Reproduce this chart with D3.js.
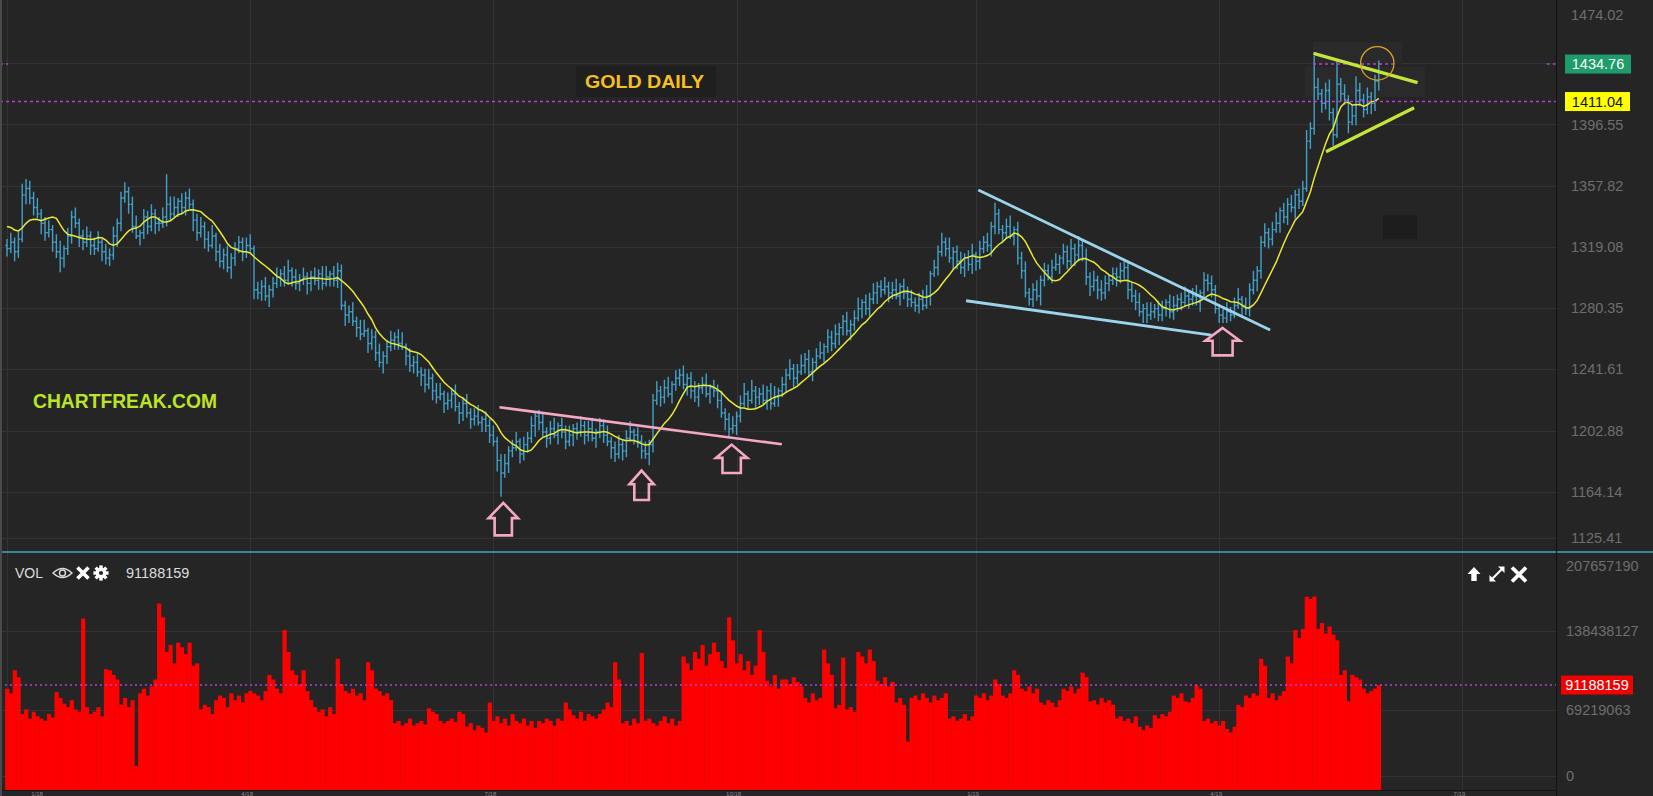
<!DOCTYPE html>
<html><head><meta charset="utf-8">
<script src="https://d3js.org/d3.v7.min.js"></script>
<style>html,body{margin:0;padding:0;background:#252525;overflow:hidden}svg{display:block}</style>
</head><body><svg id="c" width="1653" height="796"></svg>
<script>
// ---------- DATA ----------
const opens=[1320,1318,1322,1316,1324,1352,1356,1350,1344,1340,
1334,1328,1330,1322,1316,1312,1318,1326,1338,1334,
1326,1322,1326,1320,1318,1322,1316,1312,1314,1326,
1334,1350,1354,1346,1332,1326,1328,1338,1332,1340,
1334,1334,1338,1346,1340,1344,1348,1344,1350,1346,
1336,1328,1332,1324,1320,1326,1316,1310,1314,1306,
1312,1318,1322,1316,1320,1318,1292,1290,1294,1288,
1292,1296,1300,1302,1298,1304,1300,1296,1298,1300,
1296,1300,1298,1302,1296,1300,1302,1298,1304,1282,
1276,1278,1272,1268,1264,1266,1258,1262,1252,1246,
1250,1256,1260,1262,1258,1256,1250,1244,1246,1240,
1238,1232,1236,1228,1224,1226,1220,1222,1226,1218,
1214,1220,1214,1210,1212,1208,1210,1206,1200,1196,
1184,1176,1182,1190,1192,1196,1188,1194,1198,1206,
1212,1208,1202,1198,1204,1200,1206,1202,1196,1200,
1204,1202,1206,1200,1204,1198,1202,1206,1200,1196,
1192,1188,1194,1190,1198,1202,1200,1196,1190,1188,
1194,1222,1228,1224,1230,1226,1232,1236,1238,1232,
1236,1228,1224,1230,1232,1226,1230,1228,1222,1214,
1210,1204,1206,1212,1220,1226,1222,1228,1224,1226,
1222,1228,1220,1224,1228,1232,1238,1242,1236,1240,
1244,1248,1240,1246,1250,1252,1256,1262,1258,1264,
1268,1272,1266,1270,1274,1280,1284,1280,1286,1290,
1294,1292,1294,1290,1292,1288,1294,1290,1286,1284,
1282,1286,1282,1288,1302,1306,1316,1322,1318,1312,
1316,1310,1306,1312,1308,1314,1310,1318,1322,1320,
1332,1340,1330,1328,1332,1326,1330,1312,1304,1290,
1286,1292,1288,1298,1304,1300,1306,1308,1312,1316,
1310,1318,1314,1320,1312,1300,1294,1298,1292,1290,
1296,1298,1302,1300,1304,1306,1292,1288,1284,1278,
1280,1276,1278,1280,1276,1280,1284,1278,1282,1286,
1284,1288,1286,1288,1284,1290,1298,1296,1292,1280,
1276,1274,1278,1276,1282,1286,1282,1280,1292,1298,
1304,1322,1328,1324,1330,1334,1342,1338,1346,1344,
1352,1348,1356,1386,1394,1420,1416,1410,1418,1404,
1390,1422,1416,1412,1398,1402,1418,1412,1406,1414,
1410,1424];
const highs=[1324,1328,1325,1329,1359,1362,1361,1354,1350,1343,
1338,1336,1333,1327,1323,1320,1331,1342,1344,1337,
1330,1332,1329,1325,1329,1324,1321,1318,1332,1337,
1354,1360,1357,1351,1339,1330,1343,1342,1346,1343,
1338,1344,1365,1351,1351,1350,1353,1354,1356,1349,
1340,1338,1335,1329,1333,1328,1321,1318,1320,1315,
1322,1326,1325,1325,1327,1320,1297,1298,1300,1295,
1300,1306,1305,1307,1311,1306,1305,1302,1306,1303,
1304,1306,1305,1307,1307,1304,1307,1309,1308,1285,
1282,1284,1275,1273,1273,1268,1267,1266,1258,1253,
1260,1266,1265,1267,1265,1258,1255,1250,1252,1243,
1242,1242,1239,1233,1233,1228,1227,1230,1232,1221,
1224,1226,1217,1217,1219,1212,1215,1210,1206,1199,
1188,1188,1193,1197,1202,1198,1199,1202,1212,1215,
1216,1214,1205,1209,1211,1208,1211,1206,1206,1207,
1208,1212,1209,1209,1211,1204,1211,1210,1206,1199,
1196,1200,1197,1203,1209,1204,1205,1200,1196,1197,
1226,1234,1231,1235,1237,1234,1241,1242,1244,1239,
1240,1234,1233,1237,1239,1232,1235,1232,1228,1217,
1214,1212,1215,1225,1233,1228,1235,1231,1230,1232,
1231,1233,1231,1230,1237,1242,1248,1245,1245,1251,
1252,1254,1249,1255,1259,1258,1267,1266,1270,1271,
1276,1278,1273,1279,1287,1286,1289,1290,1296,1297,
1298,1300,1297,1297,1299,1296,1299,1294,1292,1287,
1290,1292,1295,1304,1311,1320,1328,1325,1325,1319,
1320,1316,1315,1317,1321,1316,1323,1326,1328,1335,
1347,1343,1333,1337,1339,1332,1335,1316,1310,1293,
1296,1298,1301,1309,1308,1311,1315,1314,1321,1320,
1324,1321,1326,1324,1318,1303,1304,1301,1298,1301,
1302,1306,1306,1309,1310,1310,1297,1292,1290,1283,
1284,1284,1283,1285,1285,1286,1289,1288,1289,1290,
1294,1291,1293,1295,1292,1303,1302,1301,1295,1283,
1280,1284,1281,1287,1293,1288,1287,1296,1304,1307,
1326,1334,1331,1335,1341,1344,1347,1350,1352,1355,
1356,1361,1393,1398,1440,1426,1419,1423,1425,1407,
1437,1426,1422,1415,1409,1427,1423,1416,1420,1417,
1428,1437];
const lows=[1313,1315,1310,1312,1322,1346,1346,1339,1337,1327,
1323,1325,1316,1312,1303,1306,1314,1321,1331,1319,
1317,1319,1314,1314,1316,1310,1308,1307,1311,1319,
1329,1347,1340,1328,1324,1320,1324,1327,1329,1327,
1329,1331,1332,1336,1338,1338,1340,1339,1343,1329,
1323,1325,1318,1316,1318,1310,1306,1305,1303,1299,
1307,1315,1310,1312,1316,1286,1286,1285,1285,1281,
1287,1293,1294,1294,1296,1294,1292,1291,1295,1289,
1291,1295,1292,1292,1294,1294,1294,1293,1279,1269,
1271,1269,1262,1260,1262,1252,1254,1247,1243,1239,
1245,1253,1254,1254,1254,1244,1240,1239,1237,1231,
1227,1229,1222,1220,1222,1214,1216,1217,1215,1207,
1209,1211,1204,1206,1206,1202,1202,1195,1193,1177,
1161,1173,1176,1186,1190,1182,1184,1189,1195,1199,
1203,1199,1192,1194,1198,1194,1198,1191,1193,1193,
1197,1199,1194,1196,1196,1192,1198,1195,1193,1185,
1183,1185,1184,1186,1196,1194,1192,1185,1185,1181,
1189,1219,1218,1220,1224,1220,1228,1231,1229,1225,
1223,1221,1218,1226,1224,1220,1224,1217,1211,1203,
1199,1201,1200,1208,1218,1216,1220,1217,1219,1219,
1216,1216,1218,1218,1224,1227,1235,1230,1232,1238,
1239,1237,1234,1242,1248,1246,1252,1253,1255,1257,
1263,1263,1260,1266,1272,1274,1276,1275,1283,1283,
1287,1289,1284,1286,1286,1282,1286,1281,1281,1278,
1277,1279,1280,1282,1300,1301,1313,1313,1309,1305,
1305,1302,1300,1304,1302,1304,1305,1315,1316,1313,
1327,1327,1322,1324,1324,1320,1308,1299,1287,1282,
1281,1285,1282,1294,1298,1296,1304,1302,1308,1305,
1307,1307,1310,1310,1295,1288,1291,1286,1285,1286,
1291,1295,1294,1296,1299,1286,1284,1279,1275,1271,
1271,1273,1274,1272,1272,1275,1274,1273,1278,1279,
1281,1280,1282,1282,1278,1286,1291,1287,1277,1271,
1271,1271,1272,1274,1280,1276,1276,1275,1289,1291,
1299,1319,1318,1320,1328,1328,1334,1333,1341,1337,
1343,1345,1354,1381,1390,1412,1404,1406,1399,1383,
1388,1411,1409,1391,1396,1396,1408,1401,1403,1403,
1405,1418];
const closes=[1318,1322,1316,1324,1352,1356,1350,1344,1340,1334,
1328,1330,1322,1316,1312,1318,1326,1338,1334,1326,
1322,1326,1320,1318,1322,1316,1312,1314,1326,1334,
1350,1354,1346,1332,1326,1328,1338,1332,1340,1334,
1334,1338,1346,1340,1344,1348,1344,1350,1346,1336,
1328,1332,1324,1320,1326,1316,1310,1314,1306,1312,
1318,1322,1316,1320,1318,1292,1290,1294,1288,1292,
1296,1300,1302,1298,1304,1300,1296,1298,1300,1296,
1300,1298,1302,1296,1300,1302,1298,1304,1282,1276,
1278,1272,1268,1264,1266,1258,1262,1252,1246,1250,
1256,1260,1262,1258,1256,1250,1244,1246,1240,1238,
1232,1236,1228,1224,1226,1220,1222,1226,1218,1214,
1220,1214,1210,1212,1208,1210,1206,1200,1196,1184,
1176,1182,1190,1192,1196,1188,1194,1198,1206,1212,
1208,1202,1198,1204,1200,1206,1202,1196,1200,1204,
1202,1206,1200,1204,1198,1202,1206,1200,1196,1192,
1188,1194,1190,1198,1202,1200,1196,1190,1188,1194,
1222,1228,1224,1230,1226,1232,1236,1238,1232,1236,
1228,1224,1230,1232,1226,1230,1228,1222,1214,1210,
1204,1206,1212,1220,1226,1222,1228,1224,1226,1222,
1228,1220,1224,1228,1232,1238,1242,1236,1240,1244,
1248,1240,1246,1250,1252,1256,1262,1258,1264,1268,
1272,1266,1270,1274,1280,1284,1280,1286,1290,1294,
1292,1294,1290,1292,1288,1294,1290,1286,1284,1282,
1286,1282,1288,1302,1306,1316,1322,1318,1312,1316,
1310,1306,1312,1308,1314,1310,1318,1322,1320,1332,
1340,1330,1328,1332,1326,1330,1312,1304,1290,1286,
1292,1288,1298,1304,1300,1306,1308,1312,1316,1310,
1318,1314,1320,1312,1300,1294,1298,1292,1290,1296,
1298,1302,1300,1304,1306,1292,1288,1284,1278,1280,
1276,1278,1280,1276,1280,1284,1278,1282,1286,1284,
1288,1286,1288,1284,1290,1298,1296,1292,1280,1276,
1274,1278,1276,1282,1286,1282,1280,1292,1298,1304,
1322,1328,1324,1330,1334,1342,1338,1346,1344,1352,
1348,1356,1386,1394,1420,1416,1410,1418,1404,1390,
1422,1416,1412,1398,1402,1418,1412,1406,1414,1410,
1424,1434.76];
// volume in millions
const volumes=[88,84,104,98,66,70,62,68,64,62,
60,66,63,85,80,75,72,78,70,68,
149,72,66,68,72,64,105,104,100,96,
74,80,72,78,21,84,88,82,90,96,
162,150,120,126,110,128,124,118,128,108,
110,70,74,72,66,78,82,80,72,84,
78,82,76,84,86,84,82,78,86,100,
96,88,84,139,120,104,100,92,104,86,
78,72,68,70,64,72,66,114,92,86,
84,88,82,84,78,111,104,88,86,82,
84,78,58,60,56,58,62,56,58,60,
57,71,68,66,60,58,60,62,59,68,
66,55,58,52,56,54,50,76,60,64,
58,62,56,66,60,58,62,56,60,54,
60,58,62,60,56,62,60,76,70,65,
62,68,60,66,64,62,66,70,76,72,
111,96,58,60,56,62,58,119,60,62,
58,56,60,64,58,62,56,60,116,110,
104,120,114,126,108,118,128,120,112,106,
150,130,110,118,104,112,100,108,139,120,
95,90,100,88,96,96,92,98,94,90,
80,76,84,78,80,122,110,100,71,74,
115,70,72,68,120,116,110,122,112,95,
92,98,90,94,76,80,74,42,80,82,
78,84,80,76,82,78,80,84,62,64,
60,62,66,60,64,82,80,84,78,82,
96,92,82,80,84,104,100,88,86,90,
84,88,76,74,78,76,72,78,88,86,
90,84,88,102,98,77,78,74,80,76,
78,74,62,64,60,62,58,64,55,52,
56,54,65,62,66,64,68,82,80,84,
77,76,80,91,88,60,62,58,60,56,
60,53,50,55,74,72,82,80,84,82,
114,108,80,84,78,82,86,116,110,139,
132,140,168,166,168,140,145,136,142,135,
130,100,104,77,100,98,96,88,84,86,
88,91.188159];
// closes before the first visible bar (only used to seed the moving average)
const maSeed=[1328,1332,1330,1334,1326,1330,1338,1342,1342];
const maPeriod=10;
const priceTicks=[1125.41,1164.14,1202.88,1241.61,1280.35,1319.08,1357.82,1396.55,1435.29,1474.02];
const volumeTicks=[0,69219063,138438127,207657190];
const quarterStarts=[0,64,128,192,255,319,383];
const xLabels=["1/18","4/18","7/18","10/18","1/19","4/19","7/19"];
const lastClose=1434.76, lastMA=1411.04, lastVolume=91188159;
const title="GOLD DAILY", watermark="CHARTFREAK.COM";
// annotations in (bar index, price) space
const pinkLine=[[129.6,1217.6],[203.9,1194.2]];
const arrows=[{i:130.6,p:1157.9,w:32,h:35},{i:167.0,p:1178.4,w:27,h:32},{i:190.7,p:1194.8,w:34,h:31},{i:319.9,p:1268.6,w:37,h:30}];
const wedgeUpper=[[255.6,1355.1],[332.4,1266.5]];
const wedgeLower=[[252.4,1285.0],[317.0,1263.3]];
const triUpper=[[343.8,1441.5],[371.2,1423.0]];
const triLower=[[347.1,1379.3],[370.3,1407.1]];
const circleMark={i:360.6,p:1435.2};
const lastCloseSegments=[[-1.9,0.3],[343.7,365.8],[405.2,407.6]];

// ---------- LAYOUT ----------
const W=1653,H=796,plotR=1556,priceBot=551,volTop=553,volBot=790;
const BG="#252525",GRID="#333333",FONT="'Liberation Sans',Arial,sans-serif";
const N=closes.length;
const svg=d3.select("#c");
const x=d3.scaleLinear().domain([0,N-1]).range([7,1378.8]);
const yP=d3.scaleLinear().domain([1125.41,1474.02]).range([553,2]);
const yV=d3.scaleLinear().domain([0,207.65719]).range([volBot,551]);

svg.append("rect").attr("width",W).attr("height",H).attr("fill",BG);
const defs=svg.append("defs");
defs.append("clipPath").attr("id","cp").append("rect").attr("x",0).attr("y",0).attr("width",plotR).attr("height",priceBot);
defs.append("clipPath").attr("id","cv").append("rect").attr("x",0).attr("y",volTop).attr("width",plotR).attr("height",volBot-volTop);

// grid
const grid=svg.append("g").attr("stroke",GRID).attr("stroke-width",1);
quarterStarts.forEach(q=>{const xx=Math.round(x(q))+0.5; if(xx<plotR) grid.append("line").attr("x1",xx).attr("x2",xx).attr("y1",0).attr("y2",volBot);});
const pLabelY=t=>Math.max(15,Math.min(537.5,yP(t)));
priceTicks.forEach(t=>{const yy=pLabelY(t); if(yP(t)<10) return; grid.append("line").attr("x1",0).attr("x2",plotR).attr("y1",Math.round(yy)+0.5).attr("y2",Math.round(yy)+0.5);});
const vLabelY=t=>Math.max(566,Math.min(776,yV(t/1e6)));
volumeTicks.forEach(t=>{const yy=yV(t/1e6); if(yy<560) return; const y2=Math.min(776,yy); grid.append("line").attr("x1",0).attr("x2",plotR).attr("y1",Math.round(y2)+0.5).attr("y2",Math.round(y2)+0.5);});

// subtle boxes behind texts/annotations (as in reference)
svg.append("rect").attr("x",576).attr("y",66).attr("width",140).attr("height",31).attr("fill","#1f1f1f");
svg.append("rect").attr("x",1313).attr("y",42).attr("width",89).attr("height",22).attr("fill","#2a2a2a");
svg.append("rect").attr("x",1305).attr("y",67).attr("width",120).attr("height",30).attr("fill","#2a2a2a");
svg.append("rect").attr("x",1383).attr("y",215).attr("width",34).attr("height",24).attr("fill","#1d1d1d");

// volume bars
const step=x(1)-x(0);
svg.append("g").attr("clip-path","url(#cv)").selectAll("rect").data(volumes).join("rect")
 .attr("x",(d,i)=>x(i)-step/2).attr("width",step+0.4)
 .attr("y",d=>yV(d)).attr("height",d=>volBot-yV(d)).attr("fill","#ff0000");

// OHLC bars
const pg=svg.append("g").attr("clip-path","url(#cp)");
pg.append("g").attr("stroke","#43a0c8").attr("stroke-width",1.4).attr("fill","none")
 .selectAll("path").data(closes).join("path")
 .attr("d",(c,i)=>{const xx=x(i),t=1.7;
   const hi=Math.max(highs[i],opens[i],c),lo=Math.min(lows[i],opens[i],c);
   return `M${xx},${yP(hi)}V${yP(lo)}M${xx-t},${yP(opens[i])}H${xx}M${xx},${yP(c)}H${xx+t}`;});

// moving average
const maIn=maSeed.concat(closes);
const ma=closes.map((c,i)=>d3.mean(maIn.slice(i+maSeed.length-maPeriod+1,i+maSeed.length+1)));
pg.append("path").datum(ma).attr("fill","none").attr("stroke","#e9e935").attr("stroke-width",1.5)
 .attr("d",d3.line().x((d,i)=>x(i)).y(d=>yP(d)));

// dashed reference lines
const DASH="#b93fd0";
svg.append("line").attr("x1",0).attr("x2",plotR).attr("y1",yP(lastMA)).attr("y2",yP(lastMA))
 .attr("stroke",DASH).attr("stroke-width",1.5).attr("stroke-dasharray","3,3");
lastCloseSegments.forEach(s=>svg.append("line").attr("x1",Math.max(0,x(s[0]))).attr("x2",x(s[1])).attr("y1",yP(lastClose)).attr("y2",yP(lastClose))
 .attr("stroke",DASH).attr("stroke-width",1.5).attr("stroke-dasharray","3,3"));
svg.append("line").attr("x1",0).attr("x2",plotR).attr("y1",yV(lastVolume/1e6)).attr("y2",yV(lastVolume/1e6))
 .attr("stroke",DASH).attr("stroke-width",1.5).attr("stroke-dasharray","2,3");

// annotations
const seg=(pts,col,w)=>svg.append("line").attr("x1",x(pts[0][0])).attr("y1",yP(pts[0][1])).attr("x2",x(pts[1][0])).attr("y2",yP(pts[1][1]))
 .attr("stroke",col).attr("stroke-width",w).attr("stroke-linecap","butt");
seg(pinkLine,"#f4a8c6",2.6);
seg(wedgeUpper,"#9bd4ec",2.8);
seg(wedgeLower,"#9bd4ec",2.8);
seg(triUpper,"#c4e53a",3.2);
seg(triLower,"#c4e53a",3.2);
arrows.forEach(a=>{const tx=x(a.i),ty=yP(a.p),hw=a.w/2-1.3,sw=a.w*0.27,hh=a.h*0.47,bot=a.h-1.3;
 svg.append("path").attr("d",`M${tx},${ty+1.3}L${tx+hw},${ty+hh}L${tx+sw},${ty+hh}L${tx+sw},${ty+bot}L${tx-sw},${ty+bot}L${tx-sw},${ty+hh}L${tx-hw},${ty+hh}Z`)
 .attr("fill","none").attr("stroke","#f4a8c6").attr("stroke-width",2.6).attr("stroke-linejoin","miter");});
svg.append("circle").attr("cx",x(circleMark.i)).attr("cy",yP(circleMark.p)).attr("r",16.7)
 .attr("fill","none").attr("stroke","#dba62a").attr("stroke-width",1.2);

// texts on chart
svg.append("text").attr("x",585).attr("y",88).text(title).attr("font-family",FONT).attr("font-weight","bold")
 .attr("font-size",19).attr("fill","#f8bf1e").attr("textLength",119).attr("lengthAdjust","spacingAndGlyphs");
svg.append("text").attr("x",33).attr("y",408).text(watermark).attr("font-family",FONT).attr("font-weight","bold")
 .attr("font-size",20.5).attr("fill","#bde326").attr("textLength",184).attr("lengthAdjust","spacingAndGlyphs");

// panel separator and axis divider
svg.append("line").attr("x1",0).attr("x2",W).attr("y1",552).attr("y2",552).attr("stroke","#41a8c8").attr("stroke-width",1.6);
svg.append("line").attr("x1",plotR+0.5).attr("x2",plotR+0.5).attr("y1",0).attr("y2",H).attr("stroke","#141414").attr("stroke-width",1.2);
svg.append("line").attr("x1",0).attr("x2",plotR).attr("y1",volBot+0.5).attr("y2",volBot+0.5).attr("stroke","#151515").attr("stroke-width",1);
svg.append("rect").attr("x",0).attr("y",0).attr("width",2).attr("height",H).attr("fill","#4a4a4a");

// right axis labels
const ax=svg.append("g").attr("font-family",FONT).attr("font-size",14.5).attr("fill","#6e6e6e");
priceTicks.forEach(t=>{const yy=pLabelY(t);
  if(Math.abs(yy-yP(lastClose))<12||Math.abs(yy-yP(lastMA))<12) return;
  ax.append("text").attr("x",1571).attr("y",yy).attr("dy","0.35em").text(t.toFixed(2));});
volumeTicks.forEach(t=>{ax.append("text").attr("x",1566).attr("y",vLabelY(t)).attr("dy","0.35em").text(String(t));});

const marker=(xx,yy,w,fill,col,txt)=>{svg.append("rect").attr("x",xx).attr("y",yy-9.5).attr("width",w).attr("height",19).attr("fill",fill);
  svg.append("text").attr("x",xx+w/2).attr("y",yy).attr("dy","0.36em").attr("text-anchor","middle").attr("font-family",FONT)
  .attr("font-size",14.5).attr("fill",col).text(txt);};
marker(1565,yP(lastClose),66,"#1e9c6c","#ffffff",lastClose.toFixed(2));
marker(1565,yP(lastMA),65,"#ffff00","#111111",lastMA.toFixed(2));
marker(1561,yV(lastVolume/1e6),72,"#f00000","#ffffff",String(lastVolume));

// VOL header
const hdr=svg.append("g");
hdr.append("text").attr("x",15).attr("y",573).attr("dy","0.35em").attr("font-family",FONT).attr("font-size",14).attr("fill","#dddddd").text("VOL");
hdr.append("path").attr("d","M53,573Q62.5,564 72,573Q62.5,582 53,573Z").attr("fill","none").attr("stroke","#dddddd").attr("stroke-width",1.4);
hdr.append("circle").attr("cx",62.5).attr("cy",573).attr("r",3).attr("fill","none").attr("stroke","#dddddd").attr("stroke-width",1.4);
hdr.append("path").attr("d","M77.5,567.5L88.5,578.5M88.5,567.5L77.5,578.5").attr("stroke","#ffffff").attr("stroke-width",3.6);
const gx=101,gy=573;
for(let k=0;k<8;k++){hdr.append("rect").attr("x",gx-1.7).attr("y",gy-7.6).attr("width",3.4).attr("height",4).attr("fill","#ffffff").attr("transform",`rotate(${k*45},${gx},${gy})`);}
hdr.append("circle").attr("cx",gx).attr("cy",gy).attr("r",5.4).attr("fill","#ffffff");
hdr.append("circle").attr("cx",gx).attr("cy",gy).attr("r",2.1).attr("fill",BG);
hdr.append("text").attr("x",126).attr("y",573).attr("dy","0.35em").attr("font-family",FONT).attr("font-size",14.5).attr("fill","#dddddd").text(String(lastVolume));

// top-right icons of volume pane
hdr.append("path").attr("d","M1474,567L1480.5,574L1476.7,574L1476.7,581L1471.3,581L1471.3,574L1467.5,574Z").attr("fill","#ffffff");
hdr.append("path").attr("d","M1491,580L1503,568").attr("stroke","#ffffff").attr("stroke-width",2.2);
hdr.append("path").attr("d","M1504.5,566.5L1504.5,573L1498,566.5Z M1489.5,581.5L1489.5,575L1496,581.5Z").attr("fill","#ffffff");
hdr.append("path").attr("d","M1512,567.5L1526,581.5M1526,567.5L1512,581.5").attr("stroke","#ffffff").attr("stroke-width",3.8);

// bottom time labels in the thin strip below the volume pane
quarterStarts.forEach((q,k)=>{svg.append("text").attr("x",Math.max(37,x(q)-3)).attr("y",795.5).attr("text-anchor","middle")
  .attr("font-family",FONT).attr("font-size",6).attr("fill","#8a8a8a").text(xLabels[k]);});
</script></body></html>
